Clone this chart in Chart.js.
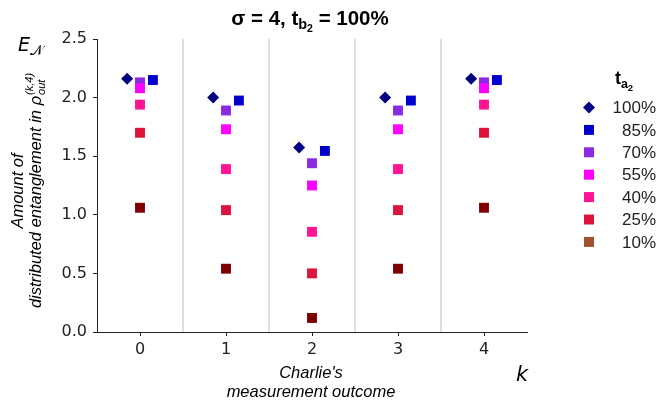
<!DOCTYPE html>
<html>
<head>
<meta charset="utf-8">
<script src="https://cdn.jsdelivr.net/npm/chart.js@4.4.0/dist/chart.umd.min.js"></script>
<style>
  html, body { margin: 0; padding: 0; background: #fff; }
  #wrap { width: 659px; height: 407px; }
</style>
</head>
<body>
<div id="wrap"><canvas id="chart" width="659" height="407"></canvas></div>
<script>
// Charlie's measurement outcome k
const outcomes = [0, 1, 2, 3, 4];
const seriesLabels = ['100%', '85%', '70%', '55%', '40%', '25%', '10%'];

// E_N for each t_a2
const ta100 = [2.16, 2.00, 1.575, 2.00, 2.16];
const ta85 = [2.15, 1.975, 1.545, 1.975, 2.15];
const ta70 = [2.13, 1.89, 1.44, 1.89, 2.13];
const ta55 = [2.08, 1.73, 1.25, 1.73, 2.08];
const ta40 = [1.94, 1.39, 0.855, 1.39, 1.94];
const ta25 = [1.70, 1.04, 0.50, 1.04, 1.70];
const ta10 = [1.06, 0.54, 0.12, 0.54, 1.06];

const yTicks = [0, 0.5, 1, 1.5, 2, 2.5];
const separators = [0.5, 1.5, 2.5, 3.5];

const allSeries = [ta100, ta85, ta70, ta55, ta40, ta25, ta10];
const colors = ['#000080', '#0000cd', '#8a2be2', '#ff00ff', '#ff1493', '#dc143c', '#800000'];
const legendColors = ['#000080', '#0000cd', '#8a2be2', '#ff00ff', '#ff1493', '#dc143c', '#a0522d'];
const shifts = [-0.15, 0.15, 0, 0, 0, 0, 0];

const SANS = '"Liberation Sans", Arial, sans-serif';
const DEJAVU = '"DejaVu Sans", sans-serif';

const datasets = allSeries.map((vals, i) => ({
    label: seriesLabels[i],
    data: vals.map((v, j) => ({ x: outcomes[j] + shifts[i], y: v })),
    pointStyle: i === 0 ? 'rectRot' : 'rect',
    pointRadius: i === 0 ? 6 : 7,
    pointHoverRadius: i === 0 ? 6 : 7,
    backgroundColor: colors[i],
    borderColor: colors[i],
    borderWidth: 0,
    showLine: false,
    order: allSeries.length - 1 - i   // later series on top
}));

// draw pieces of text one after another, each with its own font and baseline shift
function runsWidth(ctx, runs) {
    let w = 0;
    runs.forEach(r => { ctx.font = r.f; w += ctx.measureText(r.t).width; });
    return w;
}
function drawRuns(ctx, x, y, runs) {
    ctx.textAlign = 'left';
    ctx.textBaseline = 'alphabetic';
    runs.forEach(r => {
        ctx.font = r.f;
        ctx.fillText(r.t, x, y + (r.dy || 0));
        if (!r.stack) x += ctx.measureText(r.t).width;
    });
    return x;
}

const decor = {
    id: 'decor',
    beforeDatasetsDraw(chart) {
        const ctx = chart.ctx;
        const xs = chart.scales.x;
        const area = chart.chartArea;
        ctx.save();
        ctx.strokeStyle = '#d3d3d3';
        ctx.lineWidth = 1.5;
        separators.forEach(s => {
            const px = xs.getPixelForValue(s);
            ctx.beginPath();
            ctx.moveTo(px, area.top);
            ctx.lineTo(px, area.bottom);
            ctx.stroke();
        });
        ctx.restore();
    },
    afterDraw(chart) {
        const ctx = chart.ctx;
        ctx.save();
        ctx.fillStyle = '#000';

        // title
        const title = [
            { t: 'σ = 4, t', f: 'bold 20.5px ' + SANS },
            { t: 'b', f: 'bold 14.5px ' + SANS, dy: 4 },
            { t: '2', f: 'bold 10.5px ' + SANS, dy: 7 },
            { t: ' = 100%', f: 'bold 20.5px ' + SANS }
        ];
        drawRuns(ctx, 310 - runsWidth(ctx, title) / 2, 25, title);

        // E_N label at the top of the y axis
        drawRuns(ctx, 18, 51, [
            { t: 'E', f: 'italic 19px ' + DEJAVU },
            { t: '𝒩', f: '14px ' + DEJAVU, dy: 4 }
        ]);

        // rotated y title
        ctx.save();
        ctx.translate(0, 191);
        ctx.rotate(-Math.PI / 2);
        ctx.font = 'italic 16.5px ' + SANS;
        ctx.textAlign = 'center';
        ctx.fillText('Amount of', 0, 23);
        const body = [{ t: 'distributed entanglement in ρ', f: 'italic 16.5px ' + SANS }];
        ctx.font = 'italic 11px ' + SANS;
        const supW = Math.max(ctx.measureText('(k,4)').width, ctx.measureText('out').width);
        const w2 = runsWidth(ctx, body) + supW;
        const after = drawRuns(ctx, -w2 / 2, 41, body);
        drawRuns(ctx, after + 1, 41, [
            { t: '(k,4)', f: 'italic 11px ' + SANS, dy: -8, stack: true },
            { t: 'out', f: 'italic 11px ' + SANS, dy: 4 }
        ]);
        ctx.restore();

        // x title
        ctx.font = 'italic 16.5px ' + SANS;
        ctx.textAlign = 'center';
        ctx.fillText("Charlie's", 311, 378);
        ctx.fillText('measurement outcome', 311, 397);
        ctx.font = 'italic 21px ' + DEJAVU;
        ctx.fillText('k', 522, 381);

        // legend
        const lt = [
            { t: 't', f: 'bold 18px ' + SANS },
            { t: 'a', f: 'bold 12.5px ' + SANS, dy: 4 },
            { t: '2', f: 'bold 9.5px ' + SANS, dy: 7 }
        ];
        drawRuns(ctx, 624 - runsWidth(ctx, lt) / 2, 84, lt);
        chart.data.datasets.forEach((ds, i) => {
            const cy = 107.5 + i * 22.4;
            const cx = 589;
            ctx.fillStyle = legendColors[i];
            ctx.beginPath();
            if (ds.pointStyle === 'rectRot') {
                ctx.moveTo(cx - 6, cy);
                ctx.lineTo(cx, cy - 6);
                ctx.lineTo(cx + 6, cy);
                ctx.lineTo(cx, cy + 6);
                ctx.closePath();
            } else {
                ctx.rect(cx - 5, cy - 5, 10, 10);
            }
            ctx.fill();
            ctx.fillStyle = '#222';
            ctx.font = '17px ' + SANS;
            ctx.textAlign = 'right';
            ctx.textBaseline = 'middle';
            ctx.fillText(ds.label, 656, cy + 1);
        });
        ctx.restore();
    }
};

new Chart(document.getElementById('chart'), {
    type: 'scatter',
    data: { datasets: datasets },
    options: {
        responsive: false,
        animation: false,
        devicePixelRatio: 1,
        layout: { padding: { top: 39, right: 132, left: 0, bottom: 0 } },
        plugins: {
            legend: { display: false },
            tooltip: { enabled: false },
            title: { display: false }
        },
        scales: {
            x: {
                type: 'linear',
                min: -0.5,
                max: 4.5,
                afterBuildTicks: s => { s.ticks = outcomes.map(v => ({ value: v })); },
                afterFit: s => { s.height = 75; },
                ticks: {
                    color: '#222',
                    font: { family: 'DejaVu Sans', size: 16 },
                    padding: 4,
                    maxRotation: 0,
                    callback: v => String(v)
                },
                grid: { drawOnChartArea: false, drawTicks: true, tickLength: 4, color: '#222' },
                border: { display: true, color: '#222', width: 1 }
            },
            y: {
                min: 0,
                max: 2.5,
                afterBuildTicks: s => { s.ticks = yTicks.map(v => ({ value: v })); },
                afterFit: s => { s.width = 97; },
                ticks: {
                    color: '#222',
                    font: { family: 'DejaVu Sans', size: 16 },
                    padding: 6,
                    callback: v => v.toFixed(1)
                },
                grid: { drawOnChartArea: false, drawTicks: true, tickLength: 4, color: '#222' },
                border: { display: true, color: '#222', width: 1 }
            }
        }
    },
    plugins: [decor]
});
</script>
</body>
</html>
